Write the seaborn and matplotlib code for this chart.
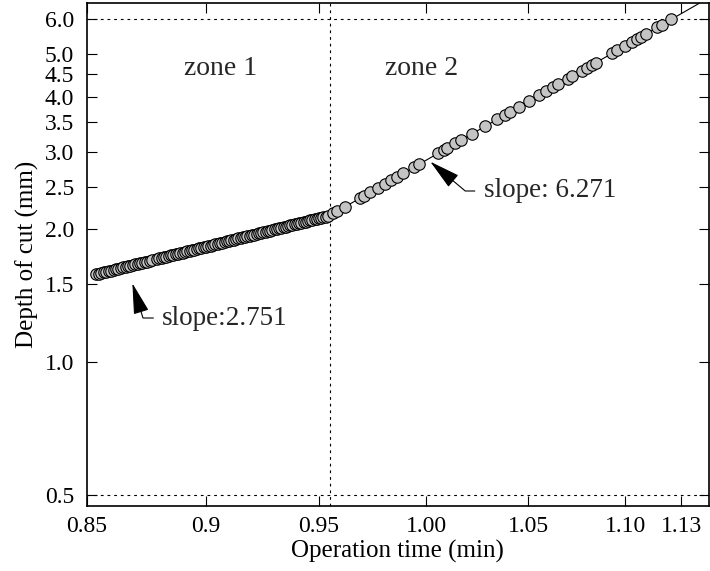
import pandas as pd
import matplotlib
matplotlib.use("Agg")
import matplotlib.pyplot as plt
from matplotlib.ticker import NullLocator
import seaborn as sns

sns.set_theme(style="ticks")
plt.rcParams['font.family'] = ['Liberation Serif', 'DejaVu Serif']

# ==============================================================================
# DATA
# ==============================================================================
zone1_time = [0.854, 0.855, 0.856, 0.857, 0.858, 0.859, 0.860, 0.861, 0.862,
              0.863, 0.864, 0.865, 0.866, 0.867, 0.868, 0.869, 0.870, 0.871,
              0.872, 0.873, 0.874, 0.875, 0.876, 0.877, 0.879, 0.880, 0.881,
              0.882, 0.883, 0.884, 0.885, 0.886, 0.887, 0.888, 0.889, 0.890,
              0.891, 0.892, 0.893, 0.894, 0.895, 0.896, 0.897, 0.898, 0.899,
              0.900, 0.901, 0.902, 0.903, 0.904, 0.905, 0.906, 0.907, 0.908,
              0.909, 0.910, 0.911, 0.912, 0.913, 0.914, 0.915, 0.916, 0.917,
              0.918, 0.919, 0.920, 0.921, 0.922, 0.923, 0.924, 0.925, 0.926,
              0.927, 0.928, 0.929, 0.930, 0.931, 0.932, 0.933, 0.934, 0.935,
              0.936, 0.937, 0.938, 0.939, 0.940, 0.941, 0.942, 0.943, 0.944,
              0.945, 0.946, 0.947, 0.948, 0.949, 0.950, 0.951, 0.952, 0.953,
              0.954]
zone1_depth = [1.581, 1.586, 1.591, 1.596, 1.601, 1.607, 1.612, 1.617, 1.622,
               1.627, 1.632, 1.638, 1.643, 1.648, 1.653, 1.658, 1.664, 1.669,
               1.674, 1.680, 1.685, 1.690, 1.695, 1.701, 1.712, 1.717, 1.722,
               1.728, 1.733, 1.738, 1.744, 1.749, 1.755, 1.760, 1.766, 1.771,
               1.777, 1.782, 1.788, 1.793, 1.799, 1.804, 1.810, 1.815, 1.821,
               1.826, 1.832, 1.837, 1.843, 1.849, 1.854, 1.860, 1.866, 1.871,
               1.877, 1.883, 1.889, 1.894, 1.900, 1.906, 1.911, 1.917, 1.923,
               1.929, 1.934, 1.940, 1.946, 1.952, 1.958, 1.963, 1.969, 1.975,
               1.981, 1.987, 1.993, 1.999, 2.005, 2.011, 2.016, 2.022, 2.028,
               2.034, 2.040, 2.046, 2.052, 2.058, 2.064, 2.070, 2.076, 2.082,
               2.089, 2.095, 2.101, 2.107, 2.113, 2.119, 2.125, 2.132, 2.138,
               2.144]

zone2_time = [0.9566, 0.9584, 0.9621, 0.9690, 0.9709, 0.9737, 0.9774, 0.9807,
              0.9835, 0.9863, 0.9892, 0.9944, 0.9968, 1.0059, 1.0087, 1.0102,
              1.0141, 1.0170, 1.0223, 1.0287, 1.0346, 1.0386, 1.0411, 1.0456,
              1.0506, 1.0556, 1.0592, 1.0627, 1.0653, 1.0704, 1.0724, 1.0776,
              1.0801, 1.0827, 1.0848, 1.0931, 1.0958, 1.1000, 1.1036, 1.1063,
              1.1084, 1.1111, 1.1169, 1.1196, 1.1244]
zone2_depth = [2.173, 2.199, 2.252, 2.356, 2.384, 2.427, 2.486, 2.539,
               2.585, 2.632, 2.680, 2.770, 2.812, 2.977, 3.031, 3.058,
               3.132, 3.189, 3.296, 3.427, 3.553, 3.639, 3.694, 3.795,
               3.911, 4.030, 4.115, 4.202, 4.266, 4.396, 4.449, 4.584,
               4.654, 4.724, 4.781, 5.016, 5.092, 5.216, 5.326, 5.406,
               5.472, 5.555, 5.741, 5.827, 5.987]

# fitted power-law segments (end points)
fit1_time = [0.854, 0.955]
fit1_depth = [1.581, 2.150]
fit2_time = [0.955, 1.145]
fit2_depth = [2.150, 6.708]

slope1 = 2.751
slope2 = 6.271
zone_boundary = 0.955
ref_depths = [0.5, 6.0]

x_ticks = [0.85, 0.9, 0.95, 1.00, 1.05, 1.10, 1.13]
x_labels = ['0.85', '0.9', '0.95', '1.00', '1.05', '1.10', '1.13']
y_ticks = [0.5, 1.0, 1.5, 2.0, 2.5, 3.0, 3.5, 4.0, 4.5, 5.0, 6.0]
y_labels = ['0.5', '1.0', '1.5', '2.0', '2.5', '3.0', '3.5', '4.0', '4.5',
            '5.0', '6.0']

points = pd.DataFrame({'time': zone1_time + zone2_time,
                       'depth': zone1_depth + zone2_depth})

# ==============================================================================
# FIGURE
# ==============================================================================
fig = plt.figure(figsize=(7.1, 5.71), dpi=100)
ax = fig.add_axes([0.1221, 0.1138, 0.8765, 0.8804])
ax.set_xscale('log')
ax.set_yscale('log')

# reference lines
for d in ref_depths:
    ax.axhline(d, color='black', lw=0.8, ls=(0, (2.5, 3.5)), zorder=1)
ax.axvline(zone_boundary, color='black', lw=0.8, ls=(0, (2.5, 3.5)), zorder=1)

# fitted lines
ax.plot(fit1_time, fit1_depth, color='black', lw=0.8, zorder=2)
ax.plot(fit2_time, fit2_depth, color='black', lw=0.8, zorder=2)

# measurements
sns.scatterplot(data=points, x='time', y='depth', s=68, color='#c4c4c4',
                edgecolor='black', linewidth=0.8, zorder=3, legend=False,
                ax=ax)

ax.set_xlim(0.8503, 1.145)
ax.set_ylim(0.471, 6.514)
ax.set_xticks(x_ticks, x_labels)
ax.set_yticks(y_ticks, y_labels)
ax.xaxis.set_minor_locator(NullLocator())
ax.yaxis.set_minor_locator(NullLocator())
ax.tick_params(which='both', direction='in', top=True, right=True,
               length=7, width=0.8, color='black', labelsize=17,
               labelcolor='black')
ax.tick_params(axis='x', pad=7)
ax.tick_params(axis='y', pad=9)
for sp in ax.spines.values():
    sp.set_color('black')
    sp.set_linewidth(1.2)

ax.set_xlabel('Operation time (min)', fontsize=18, labelpad=2, color='black')
ax.set_ylabel('Depth of cut (mm)', fontsize=18, labelpad=4, color='black')

# zone labels
ax.text(0.9063, 4.645, 'zone 1', ha='center', va='center', fontsize=20)
ax.text(0.9977, 4.645, 'zone 2', ha='center', va='center', fontsize=20)

# slope annotations
arrow = dict(arrowstyle='-|>,head_length=1.0,head_width=0.25',
             color='black', lw=0.8, relpos=(0, 0.5), shrinkA=4, shrinkB=0)
ax.annotate(f'slope:{slope1}', xy=(0.8688, 1.508), xytext=(0.8813, 1.258),
            ha='left', va='center', fontsize=19.5,
            arrowprops=dict(arrow, connectionstyle='angle,angleA=0,angleB=107,rad=0'))
ax.annotate(f'slope: {slope2}', xy=(1.0020, 2.847), xytext=(1.0279, 2.443),
            ha='left', va='center', fontsize=19.5,
            arrowprops=dict(arrow, connectionstyle='angle,angleA=0,angleB=140,rad=0'))

plt.savefig('out.png', dpi=100)
plt.close()
